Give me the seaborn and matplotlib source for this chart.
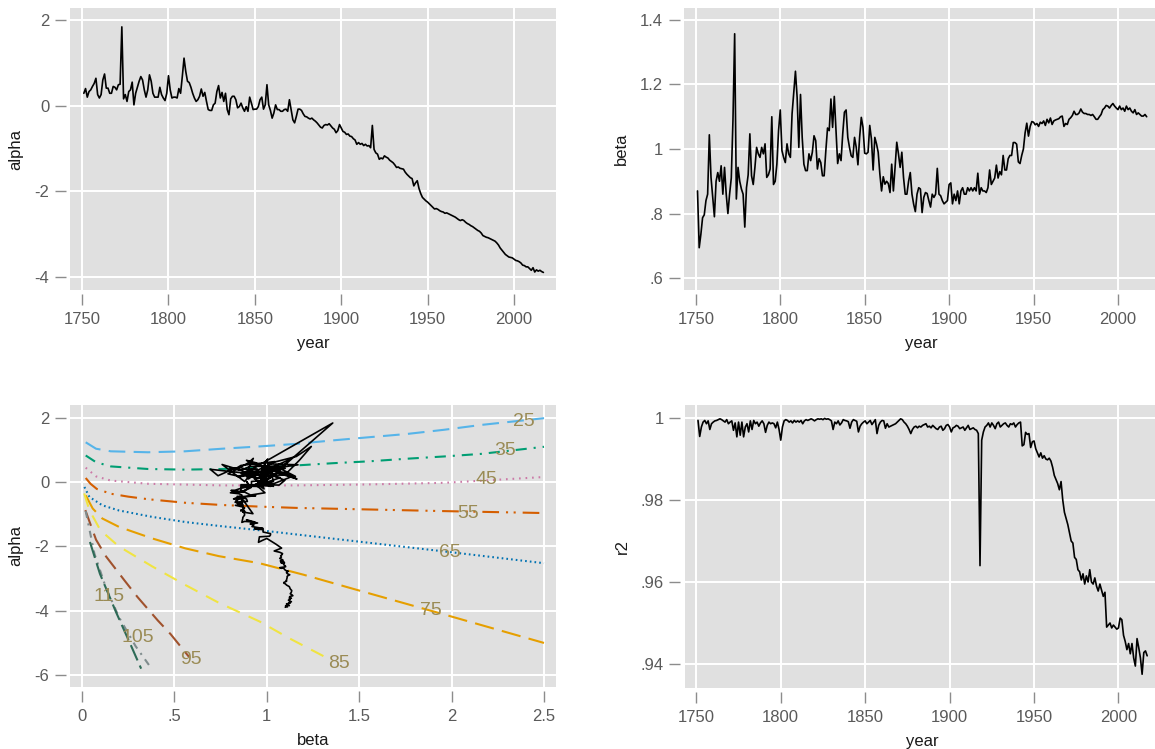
import numpy as np
import matplotlib
matplotlib.use("Agg")
import matplotlib.pyplot as plt
import seaborn as sns

# ---------------------------------------------------------------- data
first_year = 1751

alpha = [
    0.29, 0.40, 0.20, 0.33, 0.37, 0.45, 0.52, 0.64, 0.26, 0.18,          # 1751-1760
    0.26, 0.60, 0.74, 0.41, 0.41, 0.29, 0.29, 0.45, 0.43, 0.37,          # 1761-1770
    0.49, 0.50, 1.84, 0.16, 0.26, 0.10, 0.33, 0.37, 0.55, 0.02,          # 1771-1780
    0.29, 0.43, 0.57, 0.68, 0.60, 0.37, 0.20, 0.37, 0.72, 0.57,          # 1781-1790
    0.29, 0.20, 0.20, 0.20, 0.43, 0.26, 0.18, 0.12, 0.29, 0.70,          # 1791-1800
    0.37, 0.18, 0.20, 0.20, 0.18, 0.40, 0.29, 0.68, 1.11, 0.80,          # 1801-1810
    0.57, 0.54, 0.43, 0.29, 0.18, 0.10, 0.14, 0.22, 0.39, 0.22,          # 1811-1820
    0.31, 0.10, -0.09, -0.11, -0.11, 0.02, 0.06, 0.33, 0.47, 0.18,       # 1821-1830
    0.31, 0.10, 0.29, -0.09, -0.21, 0.16, 0.22, 0.22, 0.14, -0.05,       # 1831-1840
    -0.02, 0.06, -0.05, -0.13, -0.02, -0.13, 0.20, 0.06, -0.09, -0.08,   # 1841-1850
    -0.08, -0.02, 0.14, 0.20, -0.08, 0.02, 0.49, 0.02, -0.11, -0.29,     # 1851-1860
    -0.17, 0.02, -0.09, -0.09, -0.13, -0.13, -0.09, -0.08, -0.13, 0.14,  # 1861-1870
    -0.09, -0.33, -0.40, -0.25, -0.08, -0.08, -0.11, -0.19, -0.25, -0.26,  # 1871-1880
    -0.29, -0.31, -0.29, -0.33, -0.36, -0.40, -0.45, -0.50, -0.52, -0.46,  # 1881-1890
    -0.44, -0.45, -0.42, -0.47, -0.52, -0.55, -0.63, -0.58, -0.44, -0.52,  # 1891-1900
    -0.60, -0.62, -0.67, -0.66, -0.71, -0.72, -0.77, -0.80, -0.90, -0.86,  # 1901-1910
    -0.90, -0.88, -0.93, -0.90, -0.94, -0.93, -0.98, -0.46, -1.02, -1.10,  # 1911-1920
    -1.13, -1.25, -1.22, -1.24, -1.17, -1.20, -1.22, -1.27, -1.30, -1.33,  # 1921-1930
    -1.38, -1.44, -1.43, -1.46, -1.47, -1.48, -1.55, -1.60, -1.64, -1.68,  # 1931-1940
    -1.70, -1.87, -1.80, -1.75, -1.93, -2.05, -2.14, -2.18, -2.22, -2.25,  # 1941-1950
    -2.29, -2.33, -2.37, -2.41, -2.40, -2.42, -2.45, -2.47, -2.48, -2.51,  # 1951-1960
    -2.50, -2.52, -2.54, -2.56, -2.58, -2.60, -2.63, -2.66, -2.68, -2.66,  # 1961-1970
    -2.68, -2.72, -2.75, -2.77, -2.80, -2.82, -2.85, -2.88, -2.91, -2.93,  # 1971-1980
    -2.97, -3.03, -3.05, -3.07, -3.08, -3.10, -3.12, -3.14, -3.16, -3.20,  # 1981-1990
    -3.25, -3.32, -3.37, -3.42, -3.47, -3.50, -3.53, -3.54, -3.55, -3.58,  # 1991-2000
    -3.61, -3.62, -3.64, -3.67, -3.72, -3.73, -3.76, -3.76, -3.80, -3.84,  # 2001-2010
    -3.78, -3.88, -3.83, -3.86, -3.84, -3.87, -3.89,                      # 2011-2017
]

beta = [
    0.870, 0.694, 0.736, 0.787, 0.796, 0.840, 0.860, 1.044, 0.912, 0.850,  # 1751-1760
    0.790, 0.900, 0.927, 0.900, 0.948, 0.860, 0.943, 0.860, 0.800, 0.860,  # 1761-1770
    0.910, 1.090, 1.357, 0.845, 0.943, 0.900, 0.876, 0.860, 0.758, 0.880,  # 1771-1780
    0.920, 1.047, 0.917, 0.890, 0.943, 1.005, 0.985, 0.974, 1.005, 0.985,  # 1781-1790
    1.016, 0.912, 0.920, 0.938, 1.100, 0.890, 0.900, 0.953, 1.057, 1.121,  # 1791-1800
    0.995, 0.974, 0.958, 1.016, 0.985, 0.974, 1.109, 1.176, 1.241, 1.160,  # 1801-1810
    1.005, 1.169, 1.036, 0.953, 0.933, 0.933, 0.985, 0.964, 0.990, 1.041,  # 1811-1820
    1.026, 0.938, 0.970, 0.958, 0.917, 0.917, 0.995, 1.065, 1.057, 1.155,  # 1821-1830
    1.067, 1.163, 1.057, 0.955, 0.985, 0.964, 1.047, 1.114, 1.121, 1.036,  # 1831-1840
    1.005, 0.979, 0.974, 1.036, 1.005, 0.951, 1.036, 1.098, 1.067, 0.987,  # 1841-1850
    0.985, 0.990, 1.073, 1.031, 0.935, 1.036, 1.016, 0.990, 0.922, 0.870,  # 1851-1860
    0.914, 0.891, 0.900, 0.893, 0.865, 0.953, 0.870, 0.943, 1.021, 0.985,  # 1861-1870
    0.943, 0.990, 0.912, 0.860, 0.860, 0.900, 0.927, 0.860, 0.829, 0.806,  # 1871-1880
    0.860, 0.880, 0.876, 0.803, 0.850, 0.865, 0.862, 0.840, 0.820, 0.860,  # 1881-1890
    0.850, 0.860, 0.940, 0.860, 0.855, 0.840, 0.830, 0.835, 0.840, 0.890,  # 1891-1900
    0.895, 0.830, 0.860, 0.840, 0.870, 0.830, 0.870, 0.880, 0.860, 0.860,  # 1901-1910
    0.880, 0.870, 0.880, 0.870, 0.880, 0.870, 0.925, 0.860, 0.880, 0.870,  # 1911-1920
    0.870, 0.865, 0.880, 0.935, 0.890, 0.900, 0.910, 0.950, 0.910, 0.930,  # 1921-1930
    0.920, 0.980, 0.935, 0.935, 0.970, 0.980, 0.980, 1.020, 1.020, 1.015,  # 1931-1940
    0.960, 0.955, 0.980, 1.000, 1.050, 1.080, 1.040, 1.070, 1.085, 1.083,  # 1941-1950
    1.075, 1.079, 1.070, 1.083, 1.079, 1.087, 1.073, 1.092, 1.081, 1.096,  # 1951-1960
    1.076, 1.087, 1.090, 1.092, 1.094, 1.100, 1.102, 1.070, 1.079, 1.076,  # 1961-1970
    1.092, 1.097, 1.104, 1.117, 1.107, 1.107, 1.112, 1.124, 1.114, 1.110,  # 1971-1980
    1.110, 1.107, 1.107, 1.104, 1.107, 1.100, 1.092, 1.092, 1.100, 1.107,  # 1981-1990
    1.122, 1.127, 1.135, 1.133, 1.127, 1.135, 1.141, 1.133, 1.127, 1.122,  # 1991-2000
    1.133, 1.122, 1.127, 1.117, 1.133, 1.122, 1.127, 1.117, 1.112, 1.122,  # 2001-2010
    1.107, 1.112, 1.107, 1.102, 1.102, 1.107, 1.100,                       # 2011-2017
]

r2 = [
    .9994, .9955, .9978, .9990, .9994, .9986, .9993, .9972, .9986, .9990,  # 1751-1760
    .9993, .9994, .9996, .9998, .9996, .9993, .9990, .9996, .9986, .9990,  # 1761-1770
    .9993, .9970, .9988, .9954, .9990, .9958, .9990, .9954, .9978, .9986,  # 1771-1780
    .9966, .9993, .9972, .9994, .9986, .9990, .9980, .9988, .9993, .9986,  # 1781-1790
    .9965, .9982, .9990, .9986, .9988, .9986, .9976, .9990, .9972, .9946,  # 1791-1800
    .9978, .9993, .9996, .9994, .9990, .9993, .9988, .9994, .9990, .9993,  # 1801-1810
    .9990, .9994, .9986, .9993, .9996, .9994, .9996, .9998, .9996, .9993,  # 1811-1820
    .9996, .9998, .9997, .9998, .9996, .9999, .9997, .9998, .9996, .9993,  # 1821-1830
    .9972, .9990, .9986, .9993, .9983, .9988, .9996, .9994, .9993, .9991,  # 1831-1840
    .9975, .9990, .9996, .9994, .9992, .9966, .9980, .9986, .9990, .9993,  # 1841-1850
    .9986, .9990, .9994, .9984, .9990, .9996, .9962, .9982, .9990, .9994,  # 1851-1860
    .9993, .9975, .9986, .9978, .9980, .9982, .9984, .9986, .9990, .9994,  # 1861-1870
    .9998, .9996, .9990, .9986, .9980, .9972, .9962, .9972, .9978, .9980,  # 1871-1880
    .9976, .9980, .9978, .9982, .9984, .9986, .9978, .9980, .9976, .9982,  # 1881-1890
    .9978, .9974, .9972, .9978, .9980, .9970, .9974, .9982, .9984, .9978,  # 1891-1900
    .9966, .9976, .9978, .9982, .9980, .9974, .9976, .9978, .9970, .9976,  # 1901-1910
    .9982, .9972, .9974, .9976, .9972, .9970, .9962, .9640, .9946, .9966,  # 1911-1920
    .9978, .9982, .9988, .9978, .9988, .9982, .9974, .9986, .9990, .9978,  # 1921-1930
    .9982, .9986, .9988, .9982, .9978, .9986, .9984, .9988, .9978, .9984,  # 1931-1940
    .9988, .9990, .9932, .9935, .9965, .9960, .9962, .9928, .9942, .9944,  # 1941-1950
    .9925, .9915, .9905, .9915, .9902, .9908, .9900, .9898, .9902, .9895,  # 1951-1960
    .9880, .9860, .9850, .9840, .9825, .9845, .9800, .9770, .9755, .9740,  # 1961-1970
    .9720, .9700, .9695, .9660, .9655, .9630, .9625, .9605, .9620, .9595,  # 1971-1980
    .9615, .9600, .9630, .9600, .9595, .9610, .9590, .9578, .9595, .9580,  # 1981-1990
    .9565, .9575, .9490, .9495, .9500, .9488, .9495, .9490, .9485, .9488,  # 1991-2000
    .9512, .9508, .9470, .9455, .9435, .9450, .9425, .9450, .9415, .9395,  # 2001-2010
    .9462, .9440, .9415, .9375, .9428, .9432, .9420,                       # 2011-2017
]

years = np.arange(first_year, first_year + len(alpha))

# iso-life-expectancy curves in the (beta, alpha) plane
e0_levels = [25, 35, 45, 55, 65, 75, 85, 95, 105, 115]

iso25_beta = [0.02, 0.076, 0.156, 0.357, 0.557, 0.757, 0.957, 1.158, 1.358, 1.558, 1.76, 1.96, 2.16, 2.5]
iso25_alpha = [1.24, 1.04, 0.96, 0.93, 0.96, 1.04, 1.11, 1.19, 1.30, 1.40, 1.50, 1.63, 1.78, 1.99]
iso35_beta = [0.02, 0.076, 0.156, 0.357, 0.557, 0.757, 0.957, 1.158, 1.358, 1.558, 1.76, 1.96, 2.16, 2.5]
iso35_alpha = [0.83, 0.62, 0.49, 0.41, 0.39, 0.41, 0.45, 0.52, 0.59, 0.65, 0.73, 0.80, 0.88, 1.10]
iso45_beta = [0.02, 0.076, 0.156, 0.357, 0.757, 1.158, 1.558, 1.96, 2.5]
iso45_alpha = [0.45, 0.18, 0.05, -0.05, -0.10, -0.10, -0.07, -0.02, 0.16]
iso55_beta = [0.02, 0.046, 0.08, 0.156, 0.25, 0.357, 0.557, 0.757, 0.96, 1.16, 1.56, 1.96, 2.5]
iso55_alpha = [0.13, -0.05, -0.21, -0.36, -0.45, -0.53, -0.64, -0.71, -0.76, -0.80, -0.85, -0.90, -0.96]
iso65_beta = [0.013, 0.04, 0.11, 0.2, 0.38, 0.56, 0.74, 1.0, 1.5, 2.0, 2.5]
iso65_alpha = [-0.15, -0.46, -0.72, -0.88, -1.08, -1.24, -1.36, -1.52, -1.85, -2.18, -2.52]
iso75_beta = [0.02, 0.058, 0.11, 0.2, 0.38, 0.56, 0.74, 0.96, 1.2, 1.5, 2.0, 2.5]
iso75_alpha = [-0.41, -0.82, -1.13, -1.39, -1.75, -2.06, -2.30, -2.52, -2.88, -3.37, -4.18, -5.0]
iso85_beta = [0.012, 0.04, 0.10, 0.2, 0.38, 0.56, 0.74, 0.96, 1.12, 1.31]
iso85_alpha = [-0.35, -0.87, -1.5, -2.0, -2.62, -3.2, -3.75, -4.33, -4.85, -5.42]
iso95_beta = [0.018, 0.076, 0.13, 0.229, 0.30, 0.41, 0.48, 0.58]
iso95_alpha = [-0.87, -1.79, -2.31, -3.05, -3.57, -4.30, -4.73, -5.44]
iso105_beta = [0.02, 0.067, 0.128, 0.2, 0.29, 0.364]
iso105_alpha = [-0.9, -2.22, -3.26, -4.2, -5.1, -5.7]
iso115_beta = [0.043, 0.097, 0.184, 0.265, 0.32]
iso115_alpha = [-1.86, -2.85, -4.04, -5.08, -5.80]

iso_beta = [iso25_beta, iso35_beta, iso45_beta, iso55_beta, iso65_beta,
            iso75_beta, iso85_beta, iso95_beta, iso105_beta, iso115_beta]
iso_alpha = [iso25_alpha, iso35_alpha, iso45_alpha, iso55_alpha, iso65_alpha,
             iso75_alpha, iso85_alpha, iso95_alpha, iso105_alpha, iso115_alpha]

# where each level's number is written
label_beta = [2.39, 2.29, 2.19, 2.09, 1.99, 1.89, 1.39, 0.59, 0.30, 0.144]
label_alpha = [1.88, 0.975, 0.08, -0.96, -2.18, -3.99, -5.65, -5.52, -4.84, -3.55]

# ---------------------------------------------------------------- style
iso_colors = ["#56B4E9", "#009E73", "#CC79A7", "#D55E00", "#0072B2",
              "#E69F00", "#F0E442", "#A0522D", "#7F8C8D", "#2E6B57"]
iso_dashes = [(0, (12, 6)), (0, (8, 5, 1.5, 5)), (0, (1.2, 3.5)),
              (0, (12, 5, 1.5, 4, 1.5, 5)), (0, (1.2, 2.2)), (0, (14, 6)),
              (0, (10, 7)), (0, (12, 6)), (0, (5, 4, 1.5, 4)), (0, (12, 4))]
label_color = "#9A8B55"

PANEL = "#E0E0E0"
TICKCOL = "#8C8C8C"
LABCOL = "#5A5A5A"

sns.set_theme(style="darkgrid", rc={
    "axes.facecolor": PANEL,
    "grid.color": "white",
    "grid.linewidth": 1.4,
    "lines.scale_dashes": False,
})
plt.rcParams["font.family"] = ["Liberation Sans", "DejaVu Sans"]

W, H = 1155, 749
fig = plt.figure(figsize=(W / 100, H / 100), dpi=100)
fig.patch.set_facecolor("white")


def panel(x, top, w, h):
    return fig.add_axes([x / W, 1 - (top + h) / H, w / W, h / H])


def style(ax, xlim, ylim, xt, xtl, yt, ytl, xlabel, ylabel):
    ax.set_xlim(*xlim)
    ax.set_ylim(*ylim)
    ax.set_xticks(xt)
    ax.set_xticklabels(xtl)
    ax.set_yticks(yt)
    ax.set_yticklabels(ytl)
    for side in ("left", "bottom"):
        ax.spines[side].set_position(("outward", 3))
    for s in ax.spines.values():
        s.set_visible(False)
    ax.tick_params(axis="both", which="major", direction="out", length=8,
                   width=1, color=TICKCOL, labelsize=12, labelcolor=LABCOL,
                   bottom=True, left=True)
    ax.tick_params(axis="x", pad=5)
    ax.tick_params(axis="y", pad=4)
    ax.grid(True, color="white", linewidth=1.4)
    ax.set_axisbelow(True)
    ax.set_xlabel(xlabel, fontsize=12, color="#1A1A1A", labelpad=6)
    ax.set_ylabel(ylabel, fontsize=12, color="#1A1A1A", labelpad=8)


year_ticks = [1750, 1800, 1850, 1900, 1950, 2000]
year_labels = [str(y) for y in year_ticks]
year_lim = (1743.0, 2024.3)

# alpha over time
ax1 = panel(70, 8, 486, 282)
sns.lineplot(x=years, y=alpha, ax=ax1, color="black", linewidth=1.2, estimator=None)
style(ax1, year_lim, (-4.30, 2.28), year_ticks, year_labels,
      [2, 0, -2, -4], ["2", "0", "-2", "-4"], "year", "alpha")

# beta over time
ax2 = panel(684, 8, 475, 282)
sns.lineplot(x=years, y=beta, ax=ax2, color="black", linewidth=1.2, estimator=None)
style(ax2, year_lim, (0.563, 1.437), year_ticks, year_labels,
      [1.4, 1.2, 1.0, 0.8, 0.6], ["1.4", "1.2", "1", ".8", ".6"], "year", "beta")

# alpha against beta with iso-e0 curves
ax3 = panel(70, 405, 486, 282)
for lvl, bx, ay, col, ls in zip(e0_levels, iso_beta, iso_alpha, iso_colors, iso_dashes):
    sns.lineplot(x=bx, y=ay, ax=ax3, color=col, linewidth=1.5, linestyle=ls,
                 sort=False, estimator=None)
sns.lineplot(x=beta, y=alpha, ax=ax3, color="black", linewidth=1.2,
             sort=False, estimator=None)
for lvl, bx, ay in zip(e0_levels, label_beta, label_alpha):
    ax3.text(bx, ay, str(lvl), ha="center", va="center", fontsize=14,
             color=label_color)
style(ax3, (-0.065, 2.565), (-6.37, 2.40), [0, 0.5, 1, 1.5, 2, 2.5],
      ["0", ".5", "1", "1.5", "2", "2.5"], [2, 0, -2, -4, -6],
      ["2", "0", "-2", "-4", "-6"], "beta", "alpha")

# goodness of fit over time
ax4 = panel(684.5, 405, 475, 283)
sns.lineplot(x=years, y=r2, ax=ax4, color="black", linewidth=1.2, estimator=None)
style(ax4, year_lim, (0.93415, 1.00317), year_ticks, year_labels,
      [1.0, 0.98, 0.96, 0.94], ["1", ".98", ".96", ".94"], "year", "r2")

fig.savefig("out.png", dpi=100, facecolor="white")
